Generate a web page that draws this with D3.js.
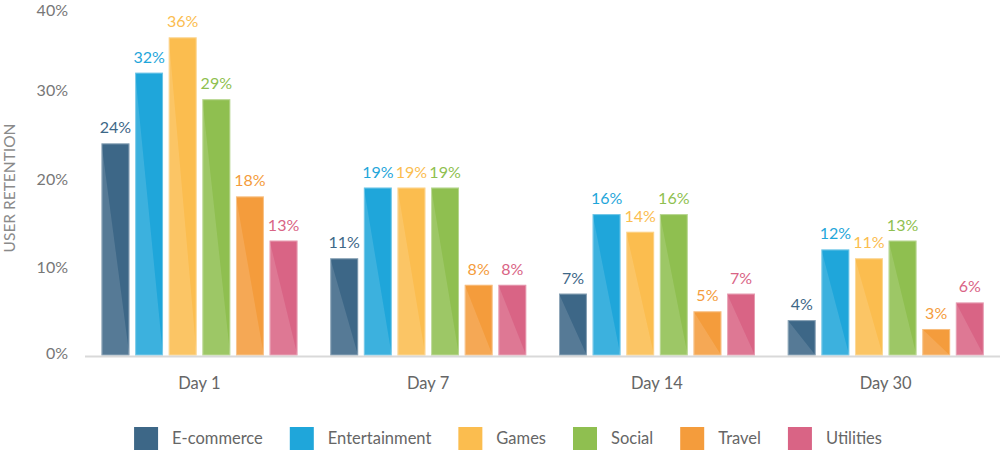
<!DOCTYPE html>
<html>
<head>
<meta charset="utf-8">
<script src="https://cdn.jsdelivr.net/npm/d3@7"></script>
<style>
  html, body { margin: 0; padding: 0; background: #fff; }
  svg { display: block; font-family: Lato, "Open Sans", sans-serif; }
</style>
</head>
<body>
<svg id="chart" width="1000" height="451"></svg>
<script>
// data
const days = ["Day 1", "Day 7", "Day 14", "Day 30"];
const seriesNames = ["E-commerce", "Entertainment", "Games", "Social", "Travel", "Utilities"];
const ecommerce = [24, 11, 7, 4];
const entertainment = [32, 19, 16, 12];
const games = [36, 19, 14, 11];
const social = [29, 19, 16, 13];
const travel = [18, 8, 5, 3];
const utilities = [13, 8, 7, 6];
const yTicks = [0, 10, 20, 30, 40];

const seriesValues = [ecommerce, entertainment, games, social, travel, utilities];
const colors = ["#3d6787", "#1fa6da", "#fbbd4f", "#8fbf50", "#f49c3c", "#d96485"];

const svg = d3.select("#chart");

const x0 = d3.scaleBand().domain(days).range([85, 1000]).padding(0);
const x1 = d3.scaleBand().domain(seriesNames).range([16.5, 212.5]).paddingInner(0.17);
const y = d3.scaleLinear().domain([0, 40]).range([355.5, 2]);
const color = d3.scaleOrdinal().domain(seriesNames).range(colors);

// flat list of bars
const bars = [];
days.forEach((day, i) => {
    seriesNames.forEach((name, j) => {
        bars.push({ day: day, name: name, value: seriesValues[j][i] });
    });
});

// y tick labels (top one kept inside the picture)
svg.append("g")
    .selectAll("text")
    .data(yTicks)
    .enter()
    .append("text")
    .attr("x", 68)
    .attr("y", d => Math.min(353, Math.max(10, y(d))))
    .attr("dy", "0.36em")
    .attr("text-anchor", "end")
    .attr("font-size", "16px")
    .attr("fill", "#777")
    .text(d => `${d}%`);

// axis title
svg.append("text")
    .attr("transform", "translate(15, 188) rotate(-90)")
    .attr("text-anchor", "middle")
    .attr("font-size", "15.5px")
    .attr("fill", "#8a8a8a")
    .text("USER RETENTION");

const barG = svg.append("g")
    .selectAll("g")
    .data(bars)
    .enter()
    .append("g")
    .attr("transform", d => `translate(${x0(d.day) + x1(d.name)}, 0)`);

const bw = x1.bandwidth();

barG.append("rect")
    .attr("x", 0)
    .attr("y", d => y(d.value))
    .attr("width", bw)
    .attr("height", d => y(0) - y(d.value))
    .attr("fill", d => color(d.name));

// lighter lower-left triangle
barG.append("path")
    .attr("d", d => `M0,${y(d.value)} L${bw},${y(0)} L0,${y(0)} Z`)
    .attr("fill", "#fff")
    .attr("fill-opacity", 0.13);

// thin light outline
barG.append("rect")
    .attr("x", 0.5)
    .attr("y", d => y(d.value) + 0.5)
    .attr("width", bw - 1)
    .attr("height", d => y(0) - y(d.value) - 1)
    .attr("fill", "none")
    .attr("stroke", "#fff")
    .attr("stroke-opacity", 0.35)
    .attr("stroke-width", 1);

barG.append("text")
    .attr("x", bw / 2)
    .attr("y", d => y(d.value) - 10)
    .attr("text-anchor", "middle")
    .attr("font-size", "16px")
    .attr("fill", d => color(d.name))
    .text(d => `${d.value}%`);

// baseline
svg.append("line")
    .attr("x1", x0.range()[0])
    .attr("x2", x0.range()[1])
    .attr("y1", y(0) + 1)
    .attr("y2", y(0) + 1)
    .attr("stroke", "#d9d9d9")
    .attr("stroke-width", 2);

// category labels
svg.append("g")
    .selectAll("text")
    .data(days)
    .enter()
    .append("text")
    .attr("x", d => x0(d) + x0.bandwidth() / 2)
    .attr("y", 389)
    .attr("text-anchor", "middle")
    .attr("font-size", "16.5px")
    .attr("fill", "#666")
    .text(d => d);

// legend, laid out by text width
const legend = svg.append("g").attr("transform", "translate(0, 427)");
const items = legend.selectAll("g")
    .data(seriesNames)
    .enter()
    .append("g");

items.append("rect")
    .attr("width", 24)
    .attr("height", 23)
    .attr("fill", d => color(d));

items.append("text")
    .attr("x", 38)
    .attr("y", 11.5)
    .attr("dy", "0.36em")
    .attr("font-size", "16.5px")
    .attr("fill", "#666")
    .text(d => d);

let cursor = 0;
const offsets = [];
items.each(function () {
    offsets.push(cursor);
    const tw = d3.select(this).select("text").node().getComputedTextLength();
    cursor += 38 + tw + 27;
});
const total = cursor - 27;
const start = 508 - total / 2;
items.attr("transform", (d, i) => `translate(${start + offsets[i]}, 0)`);
</script>
</body>
</html>
